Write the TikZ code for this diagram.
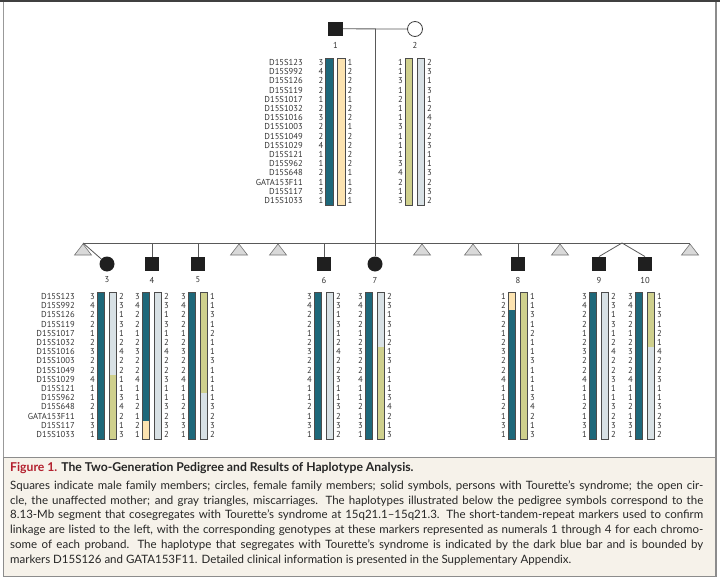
\documentclass[tikz,border=0pt]{standalone}
\usepackage{fontspec}
\usetikzlibrary{calc}
\setmainfont{PT Sans}
\newfontfamily\capfont{Lato}
\definecolor{hteal}{HTML}{1E687A}
\definecolor{hbeige}{HTML}{FCE3B0}
\definecolor{holive}{HTML}{CFD08D}
\definecolor{hgray}{HTML}{D8E1E5}
\definecolor{figred}{HTML}{B3202E}
\definecolor{capbg}{HTML}{F6F2EA}
\definecolor{txt}{HTML}{333333}
\def\pitch{9.2}
\def\ytop{62.5}
\def\ybot{296.5}
\def\markers{D15S123,D15S992,D15S126,D15S119,D15S1017,D15S1032,D15S1016,D15S1003,D15S1049,D15S1029,D15S121,D15S962,D15S648,GATA153F11,D15S117,D15S1033}
\newcommand{\hapbar}[3]{%
  \foreach \c/\a/\b in {#3} {\fill[\c] (#1-3.75, #2+\a*\pitch-4.6) rectangle (#1+3.75, #2+\b*\pitch+4.6);}
  \draw[barline] (#1-3.75, #2-4.6) rectangle (#1+3.75, #2+15*\pitch+4.6);
}
\newcommand{\indiv}[7]{%
  \hapbar{#1-6}{#2}{#5}
  \hapbar{#1+6}{#2}{#6}
  \foreach \v [count=\i from 0] in {#3} {\node[num] (#7l\i) at (#1-14.5, #2+\i*\pitch) {\v};}
  \foreach \v [count=\i from 0] in {#4} {\node[num] (#7r\i) at (#1+14.5, #2+\i*\pitch) {\v};}
}
\tikzset{
  num/.style={inner sep=0, font=\fontsize{8.6}{9}\selectfont, text=txt},
  lab/.style={inner sep=0, anchor=east, font=\fontsize{8.6}{9}\selectfont, text=txt},
  idlab/.style={inner sep=0, font=\fontsize{8.6}{9}\selectfont, text=txt},
  barline/.style={draw=black!70, line width=0.6},
  ped/.style={draw=black!65, line width=0.8},
  male/.style={rectangle, fill=black!88, minimum size=14.5pt, inner sep=0},
  female/.style={circle, fill=black!88, minimum size=15pt, inner sep=0},
  openfemale/.style={circle, draw=black!75, line width=0.8, fill=white, minimum size=15pt, inner sep=0},
  misc/.style={draw=black!55, fill=black!15, line width=0.6, line join=miter},
  captxt/.style={inner sep=0, anchor=base west, font=\capfont\fontsize{11.5}{13}\selectfont, text=black!85},
}
\begin{document}
\begin{tikzpicture}[x=1pt,y=-1pt]
\useasboundingbox (0,0) rectangle (720,583);
% frame
\fill[black!75] (0,0) rectangle (720,2.5);
\draw[black!40, line width=1.6] (3.3,2.5) -- (3.3,577);
\draw[black!45, line width=1.8] (715.6,2.5) -- (715.6,577);
% caption box
\draw[black!45, fill=capbg, line width=1.2] (3.3,457.5) rectangle (715.6,576.5);
% parents
\node[male] (p1) at (335.5,28.8) {};
\node[openfemale] (p2) at (415,29) {};
\draw[ped] (p1) -- (p2);
\coordinate (mar) at (375,28.8);
\node[idlab] (p1id) at (335.5,45) {1};
\node[idlab] (p2id) at (415,45) {2};
% sibship line
\coordinate (sibL) at (83,243);
\coordinate (sibR) at (690,243);
\coordinate (tw3) at (83,243);
\coordinate (tw9) at (622,243);
\draw[ped] (sibL) -- (sibR);
% children
\node[female] (c3) at (107,264) {};
\node[male] (c4) at (152,264) {};
\node[male] (c5) at (198,264) {};
\node[male] (c6) at (324,264) {};
\node[female] (c7) at (375,264) {};
\node[male] (c8) at (518,264) {};
\node[male] (c9) at (599,264) {};
\node[male] (c10) at (645,264) {};
\draw[ped] (mar) -- (c7);
\draw[ped] (tw3) -- (c3);
\draw[ped] (tw9) -- (c9.north);
\draw[ped] (tw9) -- (c10.north);
\foreach \n in {c4,c5,c6,c8} {\draw[ped] (\n.north) -- (\n.north |- sibL);}
\foreach \n/\t in {c3/3,c4/4,c5/5,c6/6,c7/7,c8/8,c9/9,c10/10} {\node[idlab] (\n id) at ($(\n)+(0,16)$) {\t};}
% miscarriages
\foreach \x in {83,239,278,422,473,560,690} {\draw[misc] (\x,244) -- (\x-8.5,255) -- (\x+8.5,255) -- cycle;}
% marker labels
\foreach \m [count=\i from 0] in \markers {\node[lab] (mt\i) at (303,\ytop+\i*\pitch) {\m};}
\foreach \m [count=\i from 0] in \markers {\node[lab] (mb\i) at (75,\ybot+\i*\pitch) {\m};}
% haplotypes
\indiv{335.5}{\ytop}{3,4,2,2,1,2,3,2,2,4,1,1,2,1,3,1}{1,2,2,2,1,2,2,1,2,2,2,2,1,1,2,1}{hteal/0/15}{hbeige/0/15}{A}
\indiv{415}{\ytop}{1,1,3,1,2,1,1,3,1,1,1,3,4,2,1,3}{2,3,1,3,1,2,4,2,2,3,1,1,3,2,3,2}{holive/0/15}{hgray/0/15}{B}
\indiv{107}{\ybot}{3,4,2,2,1,2,3,2,2,4,1,1,2,1,3,1}{2,3,1,3,1,2,4,2,2,1,1,3,4,2,1,3}{hteal/0/15}{hgray/0/8,holive/9/15}{C}
\indiv{152}{\ybot}{3,4,2,2,1,2,3,2,2,4,1,1,2,1,2,1}{2,3,1,3,1,2,4,2,2,3,1,1,3,2,3,2}{hteal/0/13,hbeige/14/15}{hgray/0/15}{D}
\indiv{198}{\ybot}{3,4,2,2,1,2,3,2,2,4,1,1,2,1,3,1}{1,1,3,1,2,1,1,3,1,1,1,1,3,2,3,2}{hteal/0/15}{holive/0/10,hgray/11/15}{E}
\indiv{324}{\ybot}{3,4,2,2,1,2,3,2,2,4,1,1,2,1,3,1}{2,3,1,3,1,2,4,2,2,3,1,1,3,2,3,2}{hteal/0/15}{hgray/0/15}{F}
\indiv{375}{\ybot}{3,4,2,2,1,2,3,2,2,4,1,1,2,1,3,1}{2,3,1,3,1,2,1,3,1,1,1,3,4,2,1,3}{hteal/0/15}{hgray/0/5,holive/6/15}{G}
\indiv{518}{\ybot}{1,2,2,2,1,2,3,2,2,4,1,1,2,1,3,1}{1,1,3,1,2,1,1,3,1,1,1,3,4,2,1,3}{hbeige/0/1,hteal/2/15}{holive/0/15}{H}
\indiv{599}{\ybot}{3,4,2,2,1,2,3,2,2,4,1,1,2,1,3,1}{2,3,1,3,1,2,4,2,2,3,1,1,3,2,3,2}{hteal/0/15}{hgray/0/15}{I}
\indiv{645}{\ybot}{3,4,2,2,1,2,3,2,2,4,1,1,2,1,3,1}{1,1,3,1,2,1,4,2,2,3,1,1,3,2,3,2}{hteal/0/15}{holive/0/5,hgray/6/15}{J}
% caption
\node[captxt, font=\capfont\fontsize{12.2}{13}\selectfont\bfseries] (title) at (10,471.5) {\textcolor{figred}{Figure 1.} The Two-Generation Pedigree and Results of Haplotype Analysis.};
\node[captxt] (l1) at (10,489.5) {\makebox[693pt][s]{Squares indicate male family members; circles, female family members; solid symbols, persons with Tourette’s syndrome; the open cir-}};
\node[captxt] (l2) at (10,504.2) {\makebox[693pt][s]{cle, the unaffected mother; and gray triangles, miscarriages. The haplotypes illustrated below the pedigree symbols correspond to the}};
\node[captxt] (l3) at (10,518.9) {\makebox[693pt][s]{8.13-Mb segment that cosegregates with Tourette’s syndrome at 15q21.1–15q21.3. The short-tandem-repeat markers used to confirm}};
\node[captxt] (l4) at (10,533.6) {\makebox[693pt][s]{linkage are listed to the left, with the corresponding genotypes at these markers represented as numerals 1 through 4 for each chromo-}};
\node[captxt] (l5) at (10,548.3) {\makebox[693pt][s]{some of each proband. The haplotype that segregates with Tourette’s syndrome is indicated by the dark blue bar and is bounded by}};
\node[captxt] (l6) at (10,563) {markers D15S126 and GATA153F11. Detailed clinical information is presented in the Supplementary Appendix.};
\end{tikzpicture}
\end{document}
